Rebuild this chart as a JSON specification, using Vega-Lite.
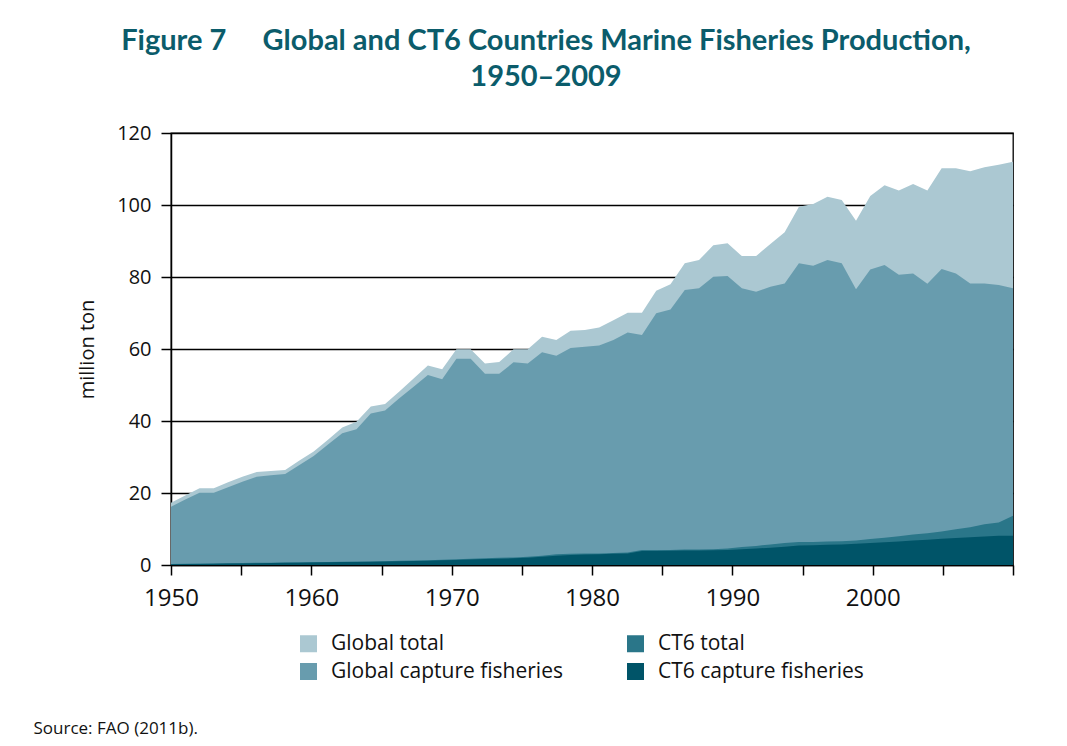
{
  "$schema": "https://vega.github.io/schema/vega-lite/v6.json",
  "autosize": {"type": "none"},
  "padding": {"left": 171, "top": 133, "right": 54, "bottom": 181},
  "width": 842,
  "height": 432,
  "background": "white",
  "title": {
    "text": ["Figure 7\u2003\u2002Global and CT6 Countries Marine Fisheries Production,", "1950–2009"],
    "font": "Lato",
    "fontSize": 29,
    "fontWeight": "bold",
    "color": "#0b5c6b",
    "anchor": "middle",
    "dx": -46,
    "offset": 31,
    "lineHeight": 36
  },
  "config": {
    "view": {"stroke": "black", "strokeWidth": 1.3},
    "font": "Open Sans",
    "axis": {
      "labelFont": "Open Sans",
      "labelFontSize": 20,
      "labelColor": "#111",
      "titleFont": "Open Sans",
      "titleFontWeight": "normal",
      "titleColor": "#111",
      "domainColor": "black",
      "domainWidth": 1.5,
      "tickColor": "black",
      "tickWidth": 1.5,
      "tickSize": 10,
      "gridColor": "black",
      "gridWidth": 1.3,
      "gridOpacity": 1
    }
  },
  "data": {
    "values": [
      {"year": 1950, "gt": 17.3, "gc": 16.2, "ct": 0.3, "cc": 0.2},
      {"year": 1951, "gt": 19.3, "gc": 18.2, "ct": 0.35, "cc": 0.25},
      {"year": 1952, "gt": 21.3, "gc": 20.1, "ct": 0.4, "cc": 0.3},
      {"year": 1953, "gt": 21.3, "gc": 20.1, "ct": 0.45, "cc": 0.35},
      {"year": 1954, "gt": 23.0, "gc": 21.6, "ct": 0.5, "cc": 0.4},
      {"year": 1955, "gt": 24.5, "gc": 23.1, "ct": 0.55, "cc": 0.45},
      {"year": 1956, "gt": 25.8, "gc": 24.5, "ct": 0.6, "cc": 0.5},
      {"year": 1957, "gt": 26.1, "gc": 24.9, "ct": 0.65, "cc": 0.55},
      {"year": 1958, "gt": 26.4, "gc": 25.3, "ct": 0.7, "cc": 0.6},
      {"year": 1959, "gt": 29.0, "gc": 27.8, "ct": 0.75, "cc": 0.65},
      {"year": 1960, "gt": 31.5, "gc": 30.3, "ct": 0.8, "cc": 0.7},
      {"year": 1961, "gt": 34.8, "gc": 33.5, "ct": 0.85, "cc": 0.75},
      {"year": 1962, "gt": 38.2, "gc": 36.6, "ct": 0.9, "cc": 0.8},
      {"year": 1963, "gt": 39.8, "gc": 37.7, "ct": 0.95, "cc": 0.85},
      {"year": 1964, "gt": 44.0, "gc": 42.1, "ct": 1.0, "cc": 0.9},
      {"year": 1965, "gt": 44.7, "gc": 42.9, "ct": 1.05, "cc": 0.95},
      {"year": 1966, "gt": 48.2, "gc": 46.3, "ct": 1.15, "cc": 1.05},
      {"year": 1967, "gt": 51.8, "gc": 49.5, "ct": 1.25, "cc": 1.1},
      {"year": 1968, "gt": 55.4, "gc": 52.8, "ct": 1.35, "cc": 1.2},
      {"year": 1969, "gt": 54.4, "gc": 51.6, "ct": 1.45, "cc": 1.3},
      {"year": 1970, "gt": 59.9, "gc": 57.3, "ct": 1.6, "cc": 1.4},
      {"year": 1971, "gt": 59.9, "gc": 57.3, "ct": 1.75, "cc": 1.5},
      {"year": 1972, "gt": 56.0, "gc": 53.1, "ct": 1.9, "cc": 1.65},
      {"year": 1973, "gt": 56.4, "gc": 53.1, "ct": 2.0, "cc": 1.75},
      {"year": 1974, "gt": 59.9, "gc": 56.3, "ct": 2.1, "cc": 1.85},
      {"year": 1975, "gt": 59.9, "gc": 56.0, "ct": 2.3, "cc": 2.0},
      {"year": 1976, "gt": 63.4, "gc": 59.1, "ct": 2.6, "cc": 2.3},
      {"year": 1977, "gt": 62.5, "gc": 58.1, "ct": 3.0, "cc": 2.6},
      {"year": 1978, "gt": 65.1, "gc": 60.3, "ct": 3.1, "cc": 2.8},
      {"year": 1979, "gt": 65.3, "gc": 60.6, "ct": 3.2, "cc": 2.95},
      {"year": 1980, "gt": 66.0, "gc": 61.0, "ct": 3.2, "cc": 3.0},
      {"year": 1981, "gt": 68.0, "gc": 62.5, "ct": 3.3, "cc": 3.1},
      {"year": 1982, "gt": 70.1, "gc": 64.6, "ct": 3.5, "cc": 3.2},
      {"year": 1983, "gt": 70.1, "gc": 63.9, "ct": 4.2, "cc": 3.9},
      {"year": 1984, "gt": 76.2, "gc": 69.9, "ct": 4.2, "cc": 3.9},
      {"year": 1985, "gt": 78.0, "gc": 71.0, "ct": 4.2, "cc": 3.95},
      {"year": 1986, "gt": 83.8, "gc": 76.4, "ct": 4.3, "cc": 4.0},
      {"year": 1987, "gt": 84.7, "gc": 76.9, "ct": 4.3, "cc": 4.05},
      {"year": 1988, "gt": 88.8, "gc": 80.1, "ct": 4.4, "cc": 4.1},
      {"year": 1989, "gt": 89.4, "gc": 80.3, "ct": 4.6, "cc": 4.2},
      {"year": 1990, "gt": 85.8, "gc": 76.9, "ct": 5.0, "cc": 4.4},
      {"year": 1991, "gt": 85.8, "gc": 75.9, "ct": 5.3, "cc": 4.6},
      {"year": 1992, "gt": 89.2, "gc": 77.3, "ct": 5.7, "cc": 4.8},
      {"year": 1993, "gt": 92.4, "gc": 78.2, "ct": 6.1, "cc": 5.1},
      {"year": 1994, "gt": 99.5, "gc": 83.8, "ct": 6.4, "cc": 5.4},
      {"year": 1995, "gt": 100.3, "gc": 83.1, "ct": 6.4, "cc": 5.5},
      {"year": 1996, "gt": 102.3, "gc": 84.7, "ct": 6.5, "cc": 5.6},
      {"year": 1997, "gt": 101.4, "gc": 83.8, "ct": 6.6, "cc": 5.7},
      {"year": 1998, "gt": 95.6, "gc": 76.6, "ct": 6.8, "cc": 5.9},
      {"year": 1999, "gt": 102.5, "gc": 82.1, "ct": 7.2, "cc": 6.1},
      {"year": 2000, "gt": 105.5, "gc": 83.3, "ct": 7.6, "cc": 6.3},
      {"year": 2001, "gt": 104.0, "gc": 80.6, "ct": 8.0, "cc": 6.5},
      {"year": 2002, "gt": 105.8, "gc": 81.0, "ct": 8.5, "cc": 6.8},
      {"year": 2003, "gt": 104.0, "gc": 78.1, "ct": 8.8, "cc": 7.0},
      {"year": 2004, "gt": 110.2, "gc": 82.2, "ct": 9.3, "cc": 7.3},
      {"year": 2005, "gt": 110.2, "gc": 81.0, "ct": 9.9, "cc": 7.5},
      {"year": 2006, "gt": 109.4, "gc": 78.2, "ct": 10.5, "cc": 7.7},
      {"year": 2007, "gt": 110.5, "gc": 78.2, "ct": 11.3, "cc": 7.9},
      {"year": 2008, "gt": 111.2, "gc": 77.8, "ct": 11.8, "cc": 8.1},
      {"year": 2009, "gt": 112.0, "gc": 76.9, "ct": 13.7, "cc": 8.1}
    ]
  },
  "encoding": {
    "x": {
      "field": "year",
      "type": "quantitative",
      "scale": {"domain": [1950, 2009], "nice": false, "zero": false},
      "axis": {
        "values": [1950, 1954.9167, 1959.8333, 1964.75, 1969.6667, 1974.5833, 1979.5, 1984.4167, 1989.3333, 1994.25, 1999.1667, 2004.0833, 2009],
        "labelExpr": "(round((datum.value-1950)*12/59) % 2 == 0 && datum.value < 2005) ? '' + (1950 + 5*round((datum.value-1950)*12/59)) : ''",
        "grid": false,
        "labelFontSize": 24,
        "labelPadding": 11,
        "labelFlush": false,
        "labelOverlap": false,
        "title": "Source: FAO (2011b).",
        "titleFontSize": 17,
        "titleX": -138,
        "titleY": 168,
        "titleAlign": "left",
        "titleAnchor": "start",
        "titleBaseline": "alphabetic"
      }
    },
    "color": {
      "scale": {
        "domain": ["Global total", "CT6 total", "Global capture fisheries", "CT6 capture fisheries"],
        "range": ["#abc8d2", "#2a7689", "#689cae", "#005468"]
      },
      "legend": {
        "orient": "none",
        "legendX": 127,
        "legendY": 500,
        "columns": 2,
        "direction": "horizontal",
        "title": null,
        "symbolType": "square",
        "symbolSize": 289,
        "symbolStrokeWidth": 0,
        "labelFont": "Open Sans",
        "labelFontSize": 21,
        "labelColor": "#111",
        "labelOffset": 12,
        "labelLimit": 400,
        "rowPadding": 6,
        "columnPadding": 62
      }
    }
  },
  "layer": [
    {
      "mark": {"type": "area", "opacity": 1},
      "encoding": {
        "y": {
          "field": "gt",
          "type": "quantitative",
          "scale": {"domain": [0, 120], "nice": false},
          "axis": {
            "values": [0, 20, 40, 60, 80, 100, 120],
            "grid": true,
            "title": "million ton",
            "titleFontSize": 20,
            "titlePadding": 19,
            "labelPadding": 10
          }
        },
        "color": {"datum": "Global total"}
      }
    },
    {
      "mark": {"type": "area", "opacity": 1},
      "encoding": {"y": {"field": "gc", "type": "quantitative"}, "color": {"datum": "Global capture fisheries"}}
    },
    {
      "mark": {"type": "area", "opacity": 1},
      "encoding": {"y": {"field": "ct", "type": "quantitative"}, "color": {"datum": "CT6 total"}}
    },
    {
      "mark": {"type": "area", "opacity": 1},
      "encoding": {"y": {"field": "cc", "type": "quantitative"}, "color": {"datum": "CT6 capture fisheries"}}
    }
  ]
}
